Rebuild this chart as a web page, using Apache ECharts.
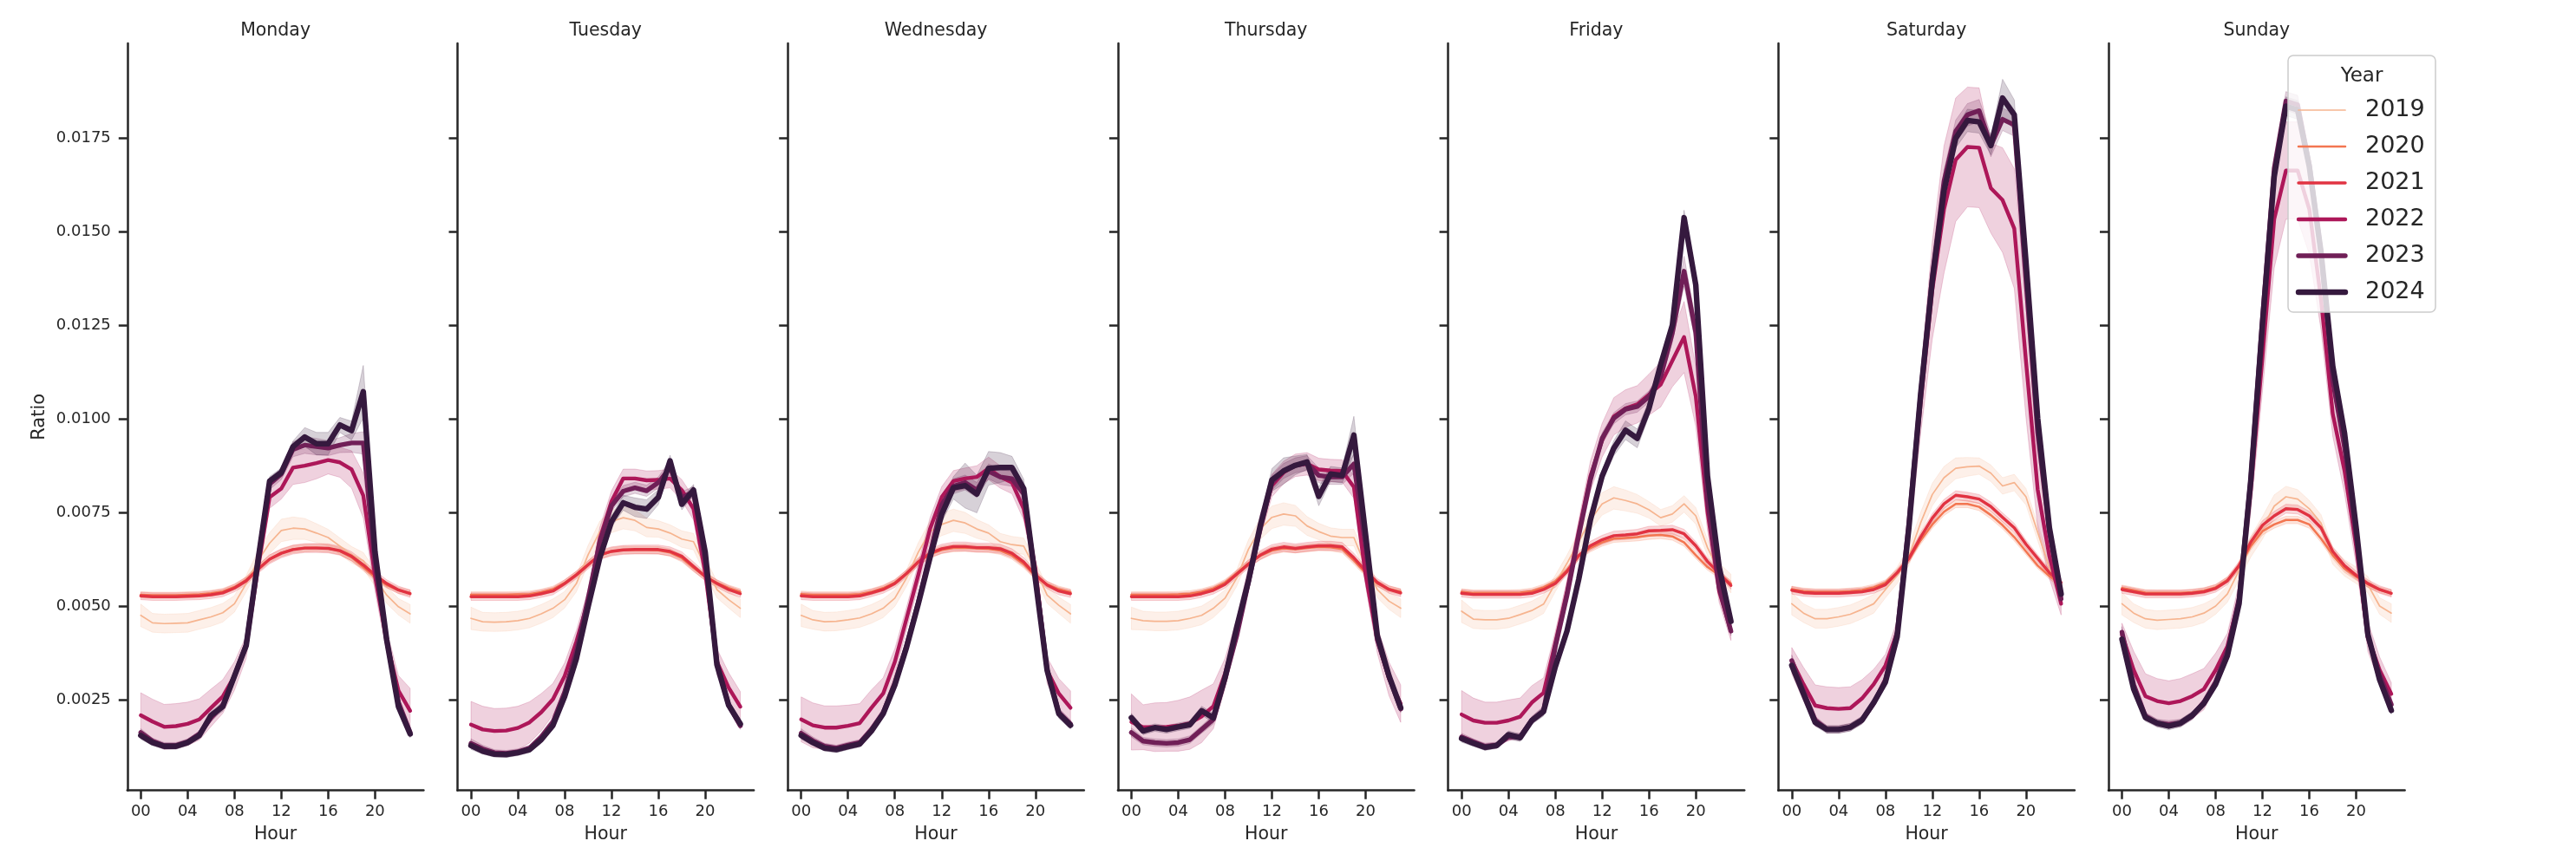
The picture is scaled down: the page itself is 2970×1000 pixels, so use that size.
<!DOCTYPE html>
<html><head><meta charset="utf-8">
<script src="https://cdn.jsdelivr.net/npm/echarts@6/dist/echarts.min.js"></script>
<style>html,body{margin:0;padding:0;background:#fff}#chart{width:2970px;height:1000px}</style>
</head><body><div id="chart"></div>
<script>
// ---------------- DATA ----------------
const hours = [0,1,2,3,4,5,6,7,8,9,10,11,12,13,14,15,16,17,18,19,20,21,22,23];
const days = ['Monday','Tuesday','Wednesday','Thursday','Friday','Saturday','Sunday'];
const years = ['2019','2020','2021','2022','2023','2024'];
const xTickValues = [0,4,8,12,16,20];
const yTickValues = [0.0025,0.005,0.0075,0.01,0.0125,0.015,0.0175];

// Monday
const mon2019 = [0.00475,0.00455,0.00453,0.00454,0.00455,0.00463,0.00471,0.00482,0.00506,0.00560,0.00621,0.00668,0.00702,0.00708,0.00706,0.00695,0.00683,0.00660,0.00637,0.00621,0.00575,0.00529,0.00498,0.00479];
const mon2020 = [0.00530,0.00529,0.00529,0.00529,0.00530,0.00531,0.00534,0.00539,0.00551,0.00570,0.00600,0.00626,0.00642,0.00652,0.00655,0.00656,0.00654,0.00647,0.00630,0.00604,0.00577,0.00556,0.00542,0.00535];
const mon2021 = [0.00527,0.00525,0.00525,0.00525,0.00526,0.00527,0.00530,0.00535,0.00548,0.00567,0.00598,0.00625,0.00641,0.00651,0.00655,0.00655,0.00654,0.00648,0.00633,0.00610,0.00583,0.00560,0.00543,0.00533];
const mon2022 = [0.00208,0.00191,0.00177,0.00179,0.00185,0.00197,0.00228,0.00258,0.00313,0.00390,0.00600,0.00791,0.00814,0.00870,0.00875,0.00882,0.00890,0.00884,0.00865,0.00795,0.00580,0.00405,0.00274,0.00220];
const mon2023 = [0.00162,0.00139,0.00127,0.00127,0.00137,0.00158,0.00201,0.00235,0.00313,0.00397,0.00620,0.00826,0.00853,0.00919,0.00930,0.00926,0.00922,0.00930,0.00936,0.00936,0.00610,0.00409,0.00243,0.00162];
const mon2024 = [0.00154,0.00135,0.00125,0.00125,0.00135,0.00154,0.00208,0.00231,0.00313,0.00394,0.00620,0.00834,0.00857,0.00926,0.00952,0.00934,0.00934,0.00984,0.00969,0.01073,0.00645,0.00409,0.00231,0.00158];
const mon2022ci = [0.00060,0.00060,0.00060,0.00060,0.00058,0.00055,0.00050,0.00045,0.00038,0.00030,0.00030,0.00030,0.00028,0.00045,0.00045,0.00042,0.00037,0.00040,0.00050,0.00060,0.00040,0.00030,0.00040,0.00060];
const mon2023ci = [0.00010,0.00008,0.00008,0.00008,0.00008,0.00008,0.00010,0.00012,0.00015,0.00015,0.00020,0.00015,0.00015,0.00020,0.00022,0.00022,0.00020,0.00020,0.00025,0.00030,0.00030,0.00015,0.00012,0.00010];
const mon2024ci = [0.00010,0.00008,0.00008,0.00008,0.00008,0.00008,0.00010,0.00012,0.00012,0.00012,0.00020,0.00012,0.00012,0.00015,0.00025,0.00030,0.00030,0.00020,0.00025,0.00070,0.00040,0.00015,0.00010,0.00010];

// Tuesday
const tue2019 = [0.00467,0.00458,0.00457,0.00458,0.00461,0.00467,0.00479,0.00494,0.00517,0.00560,0.00637,0.00699,0.00726,0.00736,0.00729,0.00710,0.00706,0.00695,0.00679,0.00672,0.00606,0.00544,0.00517,0.00494];
const tue2020 = [0.00530,0.00530,0.00530,0.00530,0.00531,0.00532,0.00537,0.00545,0.00562,0.00585,0.00612,0.00635,0.00646,0.00650,0.00650,0.00650,0.00649,0.00643,0.00628,0.00602,0.00578,0.00562,0.00548,0.00538];
const tue2021 = [0.00525,0.00525,0.00525,0.00525,0.00525,0.00527,0.00533,0.00540,0.00560,0.00583,0.00610,0.00637,0.00646,0.00650,0.00651,0.00651,0.00651,0.00646,0.00633,0.00606,0.00579,0.00560,0.00544,0.00533];
const tue2022 = [0.00183,0.00170,0.00166,0.00167,0.00174,0.00189,0.00216,0.00251,0.00313,0.00405,0.00513,0.00680,0.00780,0.00841,0.00841,0.00836,0.00837,0.00841,0.00810,0.00760,0.00590,0.00351,0.00282,0.00231];
const tue2023 = [0.00133,0.00118,0.00108,0.00106,0.00110,0.00120,0.00150,0.00190,0.00270,0.00380,0.00520,0.00670,0.00768,0.00807,0.00816,0.00808,0.00830,0.00870,0.00790,0.00805,0.00620,0.00350,0.00235,0.00180];
const tue2024 = [0.00127,0.00112,0.00104,0.00103,0.00108,0.00116,0.00143,0.00181,0.00258,0.00359,0.00498,0.00629,0.00726,0.00776,0.00764,0.00759,0.00791,0.00888,0.00772,0.00810,0.00644,0.00343,0.00235,0.00185];
const tue2022ci = [0.00062,0.00062,0.00060,0.00060,0.00058,0.00055,0.00050,0.00042,0.00035,0.00030,0.00030,0.00030,0.00028,0.00025,0.00025,0.00025,0.00025,0.00025,0.00028,0.00030,0.00030,0.00035,0.00040,0.00040];
const tue2023ci = [0.00012,0.00010,0.00008,0.00008,0.00008,0.00008,0.00010,0.00012,0.00015,0.00015,0.00015,0.00015,0.00015,0.00015,0.00015,0.00015,0.00015,0.00020,0.00015,0.00015,0.00020,0.00015,0.00012,0.00010];
const tue2024ci = [0.00010,0.00008,0.00008,0.00008,0.00008,0.00008,0.00010,0.00010,0.00012,0.00012,0.00015,0.00015,0.00015,0.00020,0.00025,0.00025,0.00020,0.00015,0.00015,0.00015,0.00020,0.00015,0.00012,0.00010];

// Wednesday
const wed2019 = [0.00475,0.00463,0.00458,0.00459,0.00463,0.00468,0.00479,0.00494,0.00521,0.00575,0.00644,0.00699,0.00718,0.00729,0.00722,0.00706,0.00695,0.00672,0.00664,0.00660,0.00598,0.00529,0.00502,0.00479];
const wed2020 = [0.00532,0.00530,0.00530,0.00530,0.00530,0.00532,0.00538,0.00548,0.00563,0.00588,0.00617,0.00638,0.00650,0.00655,0.00656,0.00654,0.00653,0.00648,0.00635,0.00612,0.00580,0.00558,0.00545,0.00537];
const wed2021 = [0.00527,0.00525,0.00525,0.00525,0.00525,0.00527,0.00535,0.00544,0.00560,0.00587,0.00618,0.00641,0.00653,0.00659,0.00659,0.00656,0.00656,0.00653,0.00641,0.00618,0.00583,0.00556,0.00540,0.00533];
const wed2022 = [0.00197,0.00181,0.00175,0.00175,0.00180,0.00187,0.00228,0.00266,0.00351,0.00467,0.00583,0.00706,0.00791,0.00834,0.00841,0.00845,0.00868,0.00845,0.00830,0.00760,0.00600,0.00328,0.00266,0.00228];
const wed2023 = [0.00160,0.00140,0.00125,0.00120,0.00128,0.00135,0.00170,0.00215,0.00295,0.00395,0.00510,0.00640,0.00770,0.00820,0.00830,0.00810,0.00860,0.00845,0.00840,0.00800,0.00580,0.00330,0.00215,0.00185];
const wed2024 = [0.00154,0.00135,0.00120,0.00116,0.00124,0.00131,0.00166,0.00212,0.00289,0.00390,0.00506,0.00629,0.00745,0.00816,0.00822,0.00799,0.00868,0.00870,0.00870,0.00814,0.00571,0.00328,0.00212,0.00181];
const wed2022ci = [0.00060,0.00060,0.00058,0.00058,0.00055,0.00052,0.00048,0.00042,0.00035,0.00030,0.00030,0.00030,0.00028,0.00028,0.00028,0.00030,0.00030,0.00030,0.00030,0.00030,0.00030,0.00035,0.00040,0.00045];
const wed2023ci = [0.00012,0.00010,0.00008,0.00008,0.00008,0.00008,0.00010,0.00012,0.00015,0.00015,0.00015,0.00015,0.00020,0.00020,0.00020,0.00020,0.00020,0.00020,0.00020,0.00020,0.00020,0.00015,0.00012,0.00010];
const wed2024ci = [0.00010,0.00008,0.00008,0.00008,0.00008,0.00008,0.00010,0.00010,0.00012,0.00012,0.00015,0.00015,0.00020,0.00030,0.00060,0.00050,0.00045,0.00040,0.00030,0.00025,0.00020,0.00015,0.00012,0.00010];

// Thursday
const thu2019 = [0.00467,0.00461,0.00459,0.00459,0.00461,0.00467,0.00475,0.00494,0.00521,0.00575,0.00652,0.00706,0.00737,0.00746,0.00741,0.00714,0.00699,0.00687,0.00683,0.00683,0.00606,0.00544,0.00513,0.00494];
const thu2020 = [0.00530,0.00530,0.00530,0.00530,0.00531,0.00533,0.00538,0.00547,0.00563,0.00588,0.00614,0.00634,0.00648,0.00654,0.00652,0.00655,0.00658,0.00657,0.00652,0.00622,0.00588,0.00560,0.00546,0.00538];
const thu2021 = [0.00525,0.00525,0.00525,0.00525,0.00525,0.00527,0.00533,0.00542,0.00558,0.00585,0.00612,0.00636,0.00652,0.00658,0.00654,0.00658,0.00661,0.00661,0.00658,0.00629,0.00594,0.00563,0.00544,0.00535];
const thu2022 = [0.00190,0.00176,0.00176,0.00177,0.00180,0.00187,0.00205,0.00232,0.00320,0.00436,0.00575,0.00714,0.00822,0.00857,0.00876,0.00880,0.00865,0.00862,0.00861,0.00818,0.00583,0.00409,0.00305,0.00239];
const thu2023 = [0.00162,0.00139,0.00135,0.00133,0.00135,0.00143,0.00170,0.00197,0.00305,0.00421,0.00563,0.00706,0.00830,0.00861,0.00876,0.00882,0.00849,0.00845,0.00845,0.00880,0.00660,0.00410,0.00310,0.00225];
const thu2024 = [0.00201,0.00166,0.00175,0.00170,0.00177,0.00183,0.00220,0.00201,0.00309,0.00444,0.00568,0.00714,0.00837,0.00861,0.00876,0.00885,0.00793,0.00853,0.00849,0.00957,0.00691,0.00421,0.00313,0.00228];
const thu2022ci = [0.00075,0.00060,0.00065,0.00065,0.00068,0.00070,0.00070,0.00060,0.00040,0.00030,0.00030,0.00030,0.00030,0.00030,0.00030,0.00030,0.00030,0.00030,0.00030,0.00030,0.00030,0.00035,0.00045,0.00050];
const thu2023ci = [0.00012,0.00010,0.00010,0.00010,0.00010,0.00010,0.00010,0.00012,0.00015,0.00015,0.00015,0.00015,0.00020,0.00020,0.00020,0.00020,0.00020,0.00020,0.00020,0.00025,0.00020,0.00015,0.00012,0.00010];
const thu2024ci = [0.00012,0.00010,0.00010,0.00010,0.00010,0.00010,0.00012,0.00012,0.00012,0.00015,0.00015,0.00015,0.00030,0.00035,0.00025,0.00020,0.00025,0.00020,0.00020,0.00050,0.00030,0.00015,0.00012,0.00010];

// Friday
const fri2019 = [0.00486,0.00465,0.00463,0.00463,0.00467,0.00477,0.00488,0.00505,0.00560,0.00614,0.00672,0.00730,0.00773,0.00789,0.00782,0.00773,0.00757,0.00736,0.00746,0.00773,0.00741,0.00656,0.00592,0.00560];
const fri2020 = [0.00538,0.00535,0.00535,0.00535,0.00535,0.00536,0.00540,0.00550,0.00566,0.00596,0.00632,0.00655,0.00670,0.00680,0.00682,0.00684,0.00688,0.00690,0.00686,0.00670,0.00636,0.00604,0.00582,0.00560];
const fri2021 = [0.00534,0.00531,0.00531,0.00531,0.00531,0.00531,0.00534,0.00544,0.00560,0.00592,0.00635,0.00661,0.00677,0.00688,0.00690,0.00693,0.00701,0.00702,0.00704,0.00693,0.00661,0.00619,0.00587,0.00555];
const fri2022 = [0.00210,0.00194,0.00188,0.00188,0.00194,0.00204,0.00242,0.00268,0.00401,0.00539,0.00699,0.00847,0.00943,0.01007,0.01028,0.01039,0.01065,0.01092,0.01156,0.01219,0.01060,0.00752,0.00539,0.00433];
const fri2023 = [0.00150,0.00137,0.00125,0.00128,0.00150,0.00150,0.00195,0.00220,0.00390,0.00528,0.00688,0.00837,0.00948,0.01002,0.01026,0.01033,0.01060,0.01113,0.01230,0.01395,0.01230,0.00784,0.00550,0.00433];
const fri2024 = [0.00146,0.00133,0.00122,0.00127,0.00156,0.00148,0.00194,0.00218,0.00337,0.00433,0.00571,0.00730,0.00847,0.00922,0.00970,0.00948,0.01028,0.01145,0.01251,0.01538,0.01358,0.00847,0.00603,0.00459];
const fri2022ci = [0.00064,0.00060,0.00055,0.00055,0.00055,0.00050,0.00045,0.00040,0.00030,0.00030,0.00030,0.00040,0.00045,0.00050,0.00050,0.00050,0.00055,0.00060,0.00070,0.00095,0.00080,0.00050,0.00030,0.00025];
const fri2023ci = [0.00010,0.00008,0.00008,0.00008,0.00008,0.00010,0.00010,0.00012,0.00015,0.00015,0.00015,0.00015,0.00015,0.00015,0.00015,0.00015,0.00015,0.00015,0.00025,0.00040,0.00030,0.00020,0.00015,0.00012];
const fri2024ci = [0.00010,0.00008,0.00008,0.00008,0.00010,0.00010,0.00010,0.00012,0.00012,0.00012,0.00015,0.00015,0.00015,0.00020,0.00025,0.00025,0.00020,0.00015,0.00015,0.00020,0.00020,0.00015,0.00012,0.00010];

// Saturday
const sat2019 = [0.00506,0.00481,0.00466,0.00466,0.00471,0.00478,0.00491,0.00506,0.00544,0.00582,0.00633,0.00722,0.00798,0.00843,0.00868,0.00872,0.00874,0.00855,0.00821,0.00830,0.00792,0.00697,0.00602,0.00540];
const sat2020 = [0.00545,0.00540,0.00538,0.00538,0.00538,0.00540,0.00543,0.00550,0.00562,0.00590,0.00625,0.00675,0.00718,0.00752,0.00773,0.00773,0.00765,0.00743,0.00716,0.00684,0.00646,0.00608,0.00580,0.00558];
const sat2021 = [0.00542,0.00536,0.00534,0.00534,0.00534,0.00536,0.00538,0.00544,0.00557,0.00589,0.00627,0.00684,0.00735,0.00773,0.00796,0.00792,0.00786,0.00766,0.00737,0.00709,0.00665,0.00627,0.00589,0.00563];
const sat2022 = [0.00354,0.00291,0.00234,0.00227,0.00225,0.00227,0.00253,0.00291,0.00341,0.00430,0.00709,0.01039,0.01344,0.01560,0.01693,0.01727,0.01725,0.01617,0.01585,0.01509,0.01154,0.00811,0.00633,0.00506];
const sat2023 = [0.00354,0.00272,0.00195,0.00170,0.00170,0.00176,0.00195,0.00240,0.00303,0.00430,0.00722,0.01065,0.01382,0.01636,0.01769,0.01813,0.01824,0.01731,0.01801,0.01786,0.01369,0.00963,0.00697,0.00519];
const sat2024 = [0.00341,0.00265,0.00189,0.00170,0.00170,0.00176,0.00195,0.00242,0.00297,0.00418,0.00709,0.01065,0.01369,0.01610,0.01750,0.01798,0.01794,0.01731,0.01858,0.01813,0.01420,0.01001,0.00709,0.00532];
const sat2022ci = [0.00035,0.00045,0.00055,0.00057,0.00057,0.00057,0.00050,0.00040,0.00030,0.00030,0.00050,0.00080,0.00130,0.00170,0.00165,0.00160,0.00160,0.00120,0.00140,0.00160,0.00150,0.00100,0.00060,0.00030];
const sat2023ci = [0.00015,0.00012,0.00010,0.00010,0.00010,0.00010,0.00010,0.00010,0.00012,0.00015,0.00020,0.00025,0.00030,0.00030,0.00030,0.00030,0.00030,0.00030,0.00030,0.00030,0.00030,0.00020,0.00015,0.00010];
const sat2024ci = [0.00015,0.00012,0.00010,0.00010,0.00010,0.00010,0.00010,0.00010,0.00012,0.00015,0.00020,0.00020,0.00025,0.00025,0.00025,0.00030,0.00030,0.00025,0.00050,0.00040,0.00030,0.00020,0.00015,0.00010];

// Sunday
const sun2019 = [0.00506,0.00481,0.00466,0.00462,0.00464,0.00466,0.00471,0.00481,0.00500,0.00532,0.00595,0.00659,0.00709,0.00767,0.00792,0.00786,0.00760,0.00722,0.00633,0.00602,0.00582,0.00557,0.00500,0.00481];
const sun2020 = [0.00548,0.00542,0.00536,0.00535,0.00535,0.00535,0.00537,0.00541,0.00550,0.00570,0.00605,0.00660,0.00700,0.00718,0.00730,0.00730,0.00718,0.00680,0.00636,0.00600,0.00578,0.00558,0.00543,0.00535];
const sun2021 = [0.00544,0.00538,0.00532,0.00532,0.00532,0.00532,0.00534,0.00538,0.00547,0.00567,0.00608,0.00671,0.00716,0.00741,0.00760,0.00758,0.00741,0.00709,0.00646,0.00608,0.00582,0.00560,0.00544,0.00534];
const sun2022 = [0.00424,0.00329,0.00259,0.00246,0.00240,0.00246,0.00259,0.00278,0.00329,0.00392,0.00519,0.00811,0.01166,0.01534,0.01664,0.01664,0.01560,0.01318,0.01014,0.00862,0.00659,0.00418,0.00329,0.00265];
const sun2023 = [0.00430,0.00290,0.00206,0.00187,0.00184,0.00187,0.00206,0.00243,0.00297,0.00380,0.00520,0.00840,0.01270,0.01670,0.01850,0.01840,0.01680,0.01445,0.01103,0.00925,0.00684,0.00418,0.00316,0.00237];
const sun2024 = [0.00411,0.00278,0.00202,0.00187,0.00179,0.00187,0.00208,0.00240,0.00291,0.00367,0.00506,0.00836,0.01255,0.01648,0.01836,0.01826,0.01674,0.01445,0.01141,0.00963,0.00709,0.00424,0.00303,0.00221];
const sun2022ci = [0.00030,0.00050,0.00060,0.00060,0.00060,0.00060,0.00060,0.00055,0.00045,0.00035,0.00040,0.00060,0.00090,0.00130,0.00130,0.00130,0.00120,0.00080,0.00060,0.00060,0.00050,0.00040,0.00035,0.00030];
const sun2023ci = [0.00015,0.00012,0.00010,0.00010,0.00010,0.00010,0.00010,0.00010,0.00012,0.00015,0.00020,0.00025,0.00025,0.00025,0.00025,0.00025,0.00025,0.00025,0.00025,0.00020,0.00020,0.00015,0.00012,0.00010];
const sun2024ci = [0.00015,0.00012,0.00010,0.00010,0.00010,0.00010,0.00010,0.00010,0.00012,0.00015,0.00020,0.00025,0.00025,0.00025,0.00025,0.00025,0.00025,0.00025,0.00025,0.00020,0.00020,0.00015,0.00012,0.00010];

// Shared CI half-widths for the smoother early years
const ci2019 = [0.00030,0.00025,0.00025,0.00025,0.00025,0.00025,0.00025,0.00025,0.00022,0.00022,0.00025,0.00028,0.00030,0.00030,0.00028,0.00025,0.00022,0.00022,0.00022,0.00022,0.00022,0.00022,0.00022,0.00025];
const ci2020 = [0.00008,0.00008,0.00008,0.00008,0.00008,0.00008,0.00008,0.00008,0.00008,0.00008,0.00009,0.00010,0.00010,0.00010,0.00010,0.00010,0.00010,0.00010,0.00010,0.00010,0.00009,0.00008,0.00008,0.00008];
const ci2021 = [0.00010,0.00010,0.00010,0.00010,0.00010,0.00010,0.00010,0.00010,0.00010,0.00010,0.00011,0.00012,0.00012,0.00012,0.00012,0.00012,0.00012,0.00012,0.00012,0.00012,0.00011,0.00010,0.00010,0.00010];

const dayMeans = {
  Monday:    [mon2019, mon2020, mon2021, mon2022, mon2023, mon2024],
  Tuesday:   [tue2019, tue2020, tue2021, tue2022, tue2023, tue2024],
  Wednesday: [wed2019, wed2020, wed2021, wed2022, wed2023, wed2024],
  Thursday:  [thu2019, thu2020, thu2021, thu2022, thu2023, thu2024],
  Friday:    [fri2019, fri2020, fri2021, fri2022, fri2023, fri2024],
  Saturday:  [sat2019, sat2020, sat2021, sat2022, sat2023, sat2024],
  Sunday:    [sun2019, sun2020, sun2021, sun2022, sun2023, sun2024]
};
const dayCIs = {
  Monday:    [ci2019, ci2020, ci2021, mon2022ci, mon2023ci, mon2024ci],
  Tuesday:   [ci2019, ci2020, ci2021, tue2022ci, tue2023ci, tue2024ci],
  Wednesday: [ci2019, ci2020, ci2021, wed2022ci, wed2023ci, wed2024ci],
  Thursday:  [ci2019, ci2020, ci2021, thu2022ci, thu2023ci, thu2024ci],
  Friday:    [ci2019, ci2020, ci2021, fri2022ci, fri2023ci, fri2024ci],
  Saturday:  [ci2019, ci2020, ci2021, sat2022ci, sat2023ci, sat2024ci],
  Sunday:    [ci2019, ci2020, ci2021, sun2022ci, sun2023ci, sun2024ci]
};

// ---------------- STYLE ----------------
const colors = ['#f6b48f','#f37651','#e13342','#ad1759','#701f57','#35193e'];
const widths = [1.7, 2.5, 3.4, 4.4, 5.4, 6.4];
const INK = '#262626';
const FONT = 'DejaVu Sans';
const GL = 146.8, GSTEP = 380.7, GW = 341.6, GT = 50, GH = 861.7;

function rgba(hex, a) {
  const n = parseInt(hex.slice(1), 16);
  return 'rgba(' + ((n >> 16) & 255) + ',' + ((n >> 8) & 255) + ',' + (n & 255) + ',' + a + ')';
}

const grids = [], xAxes = [], yAxes = [], series = [], graphics = [];
days.forEach((day, i) => {
  grids.push({ left: GL + GSTEP * i, top: GT, width: GW, height: GH });
  xAxes.push({
    gridIndex: i, type: 'value', min: -1.15, max: 24.15,
    axisLine: { show: true, onZero: false, lineStyle: { color: INK, width: 2.5 } },
    axisTick: { show: true, customValues: xTickValues, length: 10, lineStyle: { color: INK, width: 2.5 } },
    axisLabel: { show: true, customValues: xTickValues, margin: 16, fontSize: 18, color: INK, fontFamily: FONT,
      formatter: v => (v < 10 ? '0' : '') + v },
    splitLine: { show: false },
    name: 'Hour', nameLocation: 'middle', nameGap: 40,
    nameTextStyle: { fontSize: 20.5, color: INK, fontFamily: FONT }
  });
  yAxes.push({
    gridIndex: i, type: 'value', min: 0.00007, max: 0.02004,
    axisLine: { show: true, onZero: false, lineStyle: { color: INK, width: 2.5 } },
    axisTick: { show: true, customValues: yTickValues, length: 10, lineStyle: { color: INK, width: 2.5 } },
    axisLabel: { show: i === 0, customValues: yTickValues, margin: 19, fontSize: 18, color: INK, fontFamily: FONT,
      formatter: v => v.toFixed(4) },
    splitLine: { show: false },
    name: i === 0 ? 'Ratio' : '', nameLocation: 'middle', nameGap: 91,
    nameTextStyle: { fontSize: 21, color: INK, fontFamily: FONT }
  });
  graphics.push({ type: 'text', x: GL + GSTEP * i + GW / 2, y: 36,
    style: { text: day, fontSize: 20.5, fontFamily: FONT, fill: INK, textAlign: 'center', textVerticalAlign: 'middle' } });

  years.forEach((yr, j) => {
    const m = dayMeans[day][j], c = dayCIs[day][j];
    const bandData = hours.map((h, k) => [h, m[k] - c[k], m[k] + c[k]]);
    series.push({
      type: 'custom', name: yr, xAxisIndex: i, yAxisIndex: i, silent: true,
      data: bandData, encode: { x: 0, y: [1, 2] },
      renderItem: (params, api) => {
        if (params.dataIndex !== 0) return null;
        const up = bandData.map(d => api.coord([d[0], d[2]]));
        const lo = bandData.map(d => api.coord([d[0], d[1]])).reverse();
        return { type: 'polygon', shape: { points: up.concat(lo) },
          style: { fill: rgba(colors[j], 0.2), stroke: rgba(colors[j], 0.2), lineWidth: 1 } };
      }
    });
    series.push({
      type: 'line', name: yr, xAxisIndex: i, yAxisIndex: i, silent: true,
      data: hours.map((h, k) => [h, m[k]]),
      showSymbol: false, symbol: 'none',
      lineStyle: { color: colors[j], width: widths[j], cap: 'round', join: 'round' },
      itemStyle: { color: colors[j] }
    });
  });
});

// Legend (drawn as graphic)
const LX = 2638, LY = 64;
graphics.push({ type: 'rect', shape: { x: LX, y: LY, width: 170, height: 296, r: 6 },
  style: { fill: 'rgba(255,255,255,0.8)', stroke: '#cccccc', lineWidth: 1.5 }, z: 100 });
graphics.push({ type: 'text', x: 2723, y: 88, z: 101,
  style: { text: 'Year', fontSize: 23, fontFamily: FONT, fill: INK, textAlign: 'center', textVerticalAlign: 'middle' } });
years.forEach((yr, j) => {
  const yy = 127 + 42 * j;
  graphics.push({ type: 'line', z: 101, shape: { x1: 2650, y1: yy, x2: 2704, y2: yy },
    style: { stroke: colors[j], lineWidth: widths[j], lineCap: 'round' } });
  graphics.push({ type: 'text', x: 2727, y: yy, z: 101,
    style: { text: yr, fontSize: 27, fontFamily: FONT, fill: INK, textAlign: 'left', textVerticalAlign: 'middle' } });
});

const chart = echarts.init(document.getElementById('chart'), null, { renderer: 'canvas' });
chart.setOption({
  animation: false,
  backgroundColor: '#ffffff',
  textStyle: { fontFamily: FONT },
  grid: grids, xAxis: xAxes, yAxis: yAxes, series: series,
  graphic: graphics
});
</script></body></html>
